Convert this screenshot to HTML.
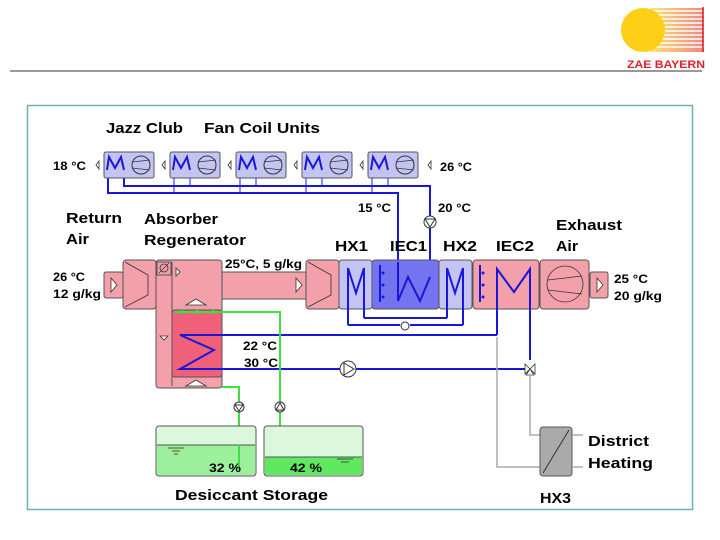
<!DOCTYPE html>
<html><head><meta charset="utf-8"><style>
html,body{margin:0;padding:0;background:#fff}
svg{display:block}
text{font-family:"Liberation Sans",Arial,sans-serif;font-weight:bold;fill:#000}
</style></head><body>
<svg width="720" height="540" viewBox="0 0 720 540" xmlns="http://www.w3.org/2000/svg">
<defs>
<linearGradient id="g1" x1="0" x2="1"><stop offset="0" stop-color="#ffd000"/><stop offset="1" stop-color="#e02020"/></linearGradient>
</defs>
<rect x="650" y="8" width="54" height="44" fill="url(#g1)" opacity="0.55"/>
<g stroke="#fff" stroke-width="1.5"><line x1="650" y1="11" x2="704" y2="11"/><line x1="650" y1="15" x2="704" y2="15"/><line x1="650" y1="19" x2="704" y2="19"/><line x1="650" y1="23" x2="704" y2="23"/><line x1="650" y1="27" x2="704" y2="27"/><line x1="650" y1="31" x2="704" y2="31"/><line x1="650" y1="35" x2="704" y2="35"/><line x1="650" y1="39" x2="704" y2="39"/><line x1="650" y1="43" x2="704" y2="43"/><line x1="650" y1="47" x2="704" y2="47"/></g>
<line x1="703" y1="7" x2="703" y2="52" stroke="#e02020" stroke-width="1.5"/>
<circle cx="643" cy="30" r="22" fill="#fdd017"/>
<text x="627" y="68" font-size="11" textLength="78" lengthAdjust="spacingAndGlyphs" style="fill:#e0202a">ZAE BAYERN</text>
<line x1="10" y1="71" x2="702" y2="71" stroke="#999" stroke-width="2"/>
<rect x="27.5" y="105.5" width="665" height="404" fill="none" stroke="#6fb0b0" stroke-width="1.5"/>

<g fill="none" stroke="#1818d8" stroke-width="2">
<polyline points="108,170 108,193 398,193 398,262"/>
<polyline points="124,170 124,186 430,186 430,216"/>
<line x1="430" y1="227" x2="430" y2="295"/>
</g>
<g stroke="#1818d8" stroke-width="1">
<line x1="174" y1="170" x2="174" y2="193"/><line x1="190" y1="170" x2="190" y2="186"/>
<line x1="240" y1="170" x2="240" y2="193"/><line x1="256" y1="170" x2="256" y2="186"/>
<line x1="306" y1="170" x2="306" y2="193"/><line x1="322" y1="170" x2="322" y2="186"/>
<line x1="372" y1="170" x2="372" y2="193"/><line x1="388" y1="170" x2="388" y2="186"/>
</g>
<circle cx="430" cy="222" r="6" fill="#fff" stroke="#333"/>
<path d="M425,219 L435,219 L430,227 Z" fill="none" stroke="#333"/>

<g id="fcu">
<rect x="104" y="152" width="50" height="26" rx="2" fill="#c4c4f4" stroke="#555"/>
<polyline points="107,170 109,157 115,168 121,157 124,170" fill="none" stroke="#1818d8" stroke-width="2"/>
<circle cx="141" cy="165" r="9" fill="none" stroke="#333"/>
<path d="M132,162 L150,160 M132,168 L150,170" stroke="#333" fill="none" stroke-width="0.8"/>
<path d="M99,161 L96,165 L99,169 Z" fill="none" stroke="#333" stroke-width="0.8"/>
</g>
<use href="#fcu" x="66"/><use href="#fcu" x="132"/><use href="#fcu" x="198"/><use href="#fcu" x="264"/>
<path d="M431,161 L428,165 L431,169 Z" fill="none" stroke="#333" stroke-width="0.8"/>

<g stroke="#555" stroke-width="1" fill="#f4a0aa">
<rect x="104" y="272" width="19" height="26" rx="2"/>
<rect x="123" y="260" width="33" height="49" rx="3"/>
<rect x="156" y="260" width="66" height="128" rx="3"/>
<rect x="222" y="272" width="84" height="27"/>
<rect x="306" y="260" width="33" height="49" rx="3"/>
<rect x="339" y="260" width="33" height="49" rx="3" fill="#c4c4f4"/>
<rect x="372" y="260" width="67" height="49" rx="3" fill="#7474f0"/>
<rect x="439" y="260" width="33" height="49" rx="3" fill="#c4c4f4"/>
<rect x="473" y="260" width="66" height="49" rx="3"/>
<rect x="540" y="260" width="49" height="49" rx="3"/>
<rect x="590" y="272" width="18" height="26" rx="2"/>
<rect x="172" y="310" width="50" height="67" rx="3" fill="#f06078"/>
</g>
<line x1="172" y1="262" x2="172" y2="386" stroke="#555"/>
<g fill="#fff" stroke="#333" stroke-width="0.8">
<path d="M111,278 L117,285 L111,292 Z"/><path d="M296,278 L302,285 L296,292 Z"/><path d="M597,278 L603,285 L597,292 Z"/>
<path d="M176,268 L180,272 L176,276 Z"/>
<path d="M186,305 L196,299 L206,305 Z"/><path d="M186,386 L196,380 L206,386 Z"/>
<path d="M160,336 L164,340 L168,336 Z"/>
</g>
<rect x="157" y="262" width="14" height="13" fill="none" stroke="#555"/>
<circle cx="164" cy="268" r="4" fill="none" stroke="#333" stroke-width="0.8"/><line x1="159" y1="273" x2="169" y2="263" stroke="#333" stroke-width="0.8"/>
<g fill="none" stroke="#333" stroke-width="0.8">
<path d="M125,262 L148,275 L148,295 L125,307"/>
<path d="M308,262 L331,275 L331,295 L308,307"/>
<circle cx="565" cy="284" r="18"/><path d="M548,280 L582,276 M548,290 L582,294"/>
</g>
<g fill="none" stroke="#1818d8" stroke-width="2">
<polyline points="348,325 348,268 356,293 364,268 364,318"/>
<polyline points="447,318 447,268 455,293 463,268 463,325"/>
<polyline points="398,262 398,301 408,277 420,301 430,277"/>
<polyline points="497,335 497,269 514,292 530,269 530,360"/>
<polyline points="348,325 400,325"/><polyline points="410,325 463,325"/>
<polyline points="364,318 447,318"/>
<polyline points="497,335 180,335 214,350 180,369 341,369"/>
<polyline points="355,369 525,369"/>
<line x1="380" y1="265" x2="380" y2="302"/><line x1="480" y1="265" x2="480" y2="302"/>
</g>
<g fill="#1818d8"><circle cx="383" cy="273" r="1.5"/><circle cx="383" cy="285" r="1.5"/><circle cx="383" cy="297" r="1.5"/><circle cx="483" cy="273" r="1.5"/><circle cx="483" cy="285" r="1.5"/><circle cx="483" cy="297" r="1.5"/></g>
<circle cx="405" cy="326" r="4" fill="#fff" stroke="#333"/>
<circle cx="348" cy="369" r="8" fill="#fff" stroke="#333"/><path d="M344,363 L354,369 L344,375 Z" fill="none" stroke="#333"/>
<path d="M525,364 L530,369 L525,374 Z M535,364 L530,369 L535,374 Z M526,375 L530,369 L534,375 Z" fill="#fff" stroke="#333" stroke-width="0.8"/>
<g fill="none" stroke="#aaa" stroke-width="1.5">
<polyline points="497,337 497,467 540,467"/>
<polyline points="530,376 530,435 540,435"/>
<line x1="573" y1="435" x2="583" y2="435"/><line x1="573" y1="467" x2="583" y2="467"/>
</g>
<rect x="540" y="427" width="32" height="49" rx="3" fill="#aaa" stroke="#555"/>
<line x1="543" y1="473" x2="569" y2="430" stroke="#333"/>
<g fill="none" stroke="#40e040" stroke-width="2">
<polyline points="174,312 280,312 280,402"/>
<polyline points="280,412 280,472"/>
<polyline points="222,387 239,387 239,402"/>
<polyline points="239,412 239,470"/>
</g>
<g fill="#40e040"><circle cx="182" cy="312" r="2"/><circle cx="197" cy="312" r="2"/><circle cx="213" cy="312" r="2"/></g>
<circle cx="239" cy="407" r="5" fill="#fff" stroke="#333"/><path d="M235,405 L243,405 L239,411 Z" fill="none" stroke="#333"/>
<circle cx="280" cy="407" r="5" fill="#fff" stroke="#333"/><path d="M276,410 L284,410 L280,403 Z" fill="none" stroke="#333"/>
<rect x="156" y="426" width="100" height="50" rx="3" fill="#dcf8dc" stroke="#555"/>
<rect x="157" y="445" width="98" height="30" fill="#9cf09c"/>
<line x1="157" y1="445" x2="255" y2="445" stroke="#555"/>
<rect x="264" y="426" width="99" height="50" rx="3" fill="#dcf8dc" stroke="#555"/>
<rect x="265" y="457" width="97" height="18" fill="#60e860"/>
<line x1="265" y1="457" x2="362" y2="457" stroke="#555"/>
<line x1="239" y1="445" x2="239" y2="470" stroke="#40e040" stroke-width="2"/>
<g stroke="#333" stroke-width="0.8"><line x1="168" y1="448" x2="184" y2="448"/><line x1="172" y1="451" x2="180" y2="451"/><line x1="174" y1="454" x2="178" y2="454"/>
<line x1="337" y1="459" x2="353" y2="459"/><line x1="341" y1="462" x2="349" y2="462"/></g>

<g font-size="15">
<text x="106" y="133" textLength="77" lengthAdjust="spacingAndGlyphs">Jazz Club</text>
<text x="204" y="133" textLength="116" lengthAdjust="spacingAndGlyphs">Fan Coil Units</text>
<text x="66" y="223" textLength="56" lengthAdjust="spacingAndGlyphs">Return</text>
<text x="66" y="244" textLength="23" lengthAdjust="spacingAndGlyphs">Air</text>
<text x="144" y="224" textLength="74" lengthAdjust="spacingAndGlyphs">Absorber</text>
<text x="144" y="245" textLength="102" lengthAdjust="spacingAndGlyphs">Regenerator</text>
<text x="335" y="251" textLength="33" lengthAdjust="spacingAndGlyphs">HX1</text>
<text x="390" y="251" textLength="37" lengthAdjust="spacingAndGlyphs">IEC1</text>
<text x="443" y="251" textLength="34" lengthAdjust="spacingAndGlyphs">HX2</text>
<text x="496" y="251" textLength="38" lengthAdjust="spacingAndGlyphs">IEC2</text>
<text x="556" y="230" textLength="66" lengthAdjust="spacingAndGlyphs">Exhaust</text>
<text x="556" y="251" textLength="22" lengthAdjust="spacingAndGlyphs">Air</text>
<text x="588" y="446" textLength="61" lengthAdjust="spacingAndGlyphs">District</text>
<text x="588" y="468" textLength="65" lengthAdjust="spacingAndGlyphs">Heating</text>
<text x="175" y="500" textLength="153" lengthAdjust="spacingAndGlyphs">Desiccant Storage</text>
<text x="540" y="503" textLength="31" lengthAdjust="spacingAndGlyphs">HX3</text>
</g>
<g font-size="12">
<text x="53" y="170" textLength="33" lengthAdjust="spacingAndGlyphs">18 °C</text>
<text x="440" y="171" textLength="32" lengthAdjust="spacingAndGlyphs">26 °C</text>
<text x="358" y="212" textLength="33" lengthAdjust="spacingAndGlyphs">15 °C</text>
<text x="438" y="212" textLength="33" lengthAdjust="spacingAndGlyphs">20 °C</text>
<text x="53" y="281" textLength="32" lengthAdjust="spacingAndGlyphs">26 °C</text>
<text x="53" y="298" textLength="48" lengthAdjust="spacingAndGlyphs">12 g/kg</text>
<text x="225" y="268" textLength="77" lengthAdjust="spacingAndGlyphs">25°C, 5 g/kg</text>
<text x="614" y="283" textLength="34" lengthAdjust="spacingAndGlyphs">25 °C</text>
<text x="614" y="300" textLength="48" lengthAdjust="spacingAndGlyphs">20 g/kg</text>
<text x="243" y="350" textLength="34" lengthAdjust="spacingAndGlyphs">22 °C</text>
<text x="244" y="367" textLength="34" lengthAdjust="spacingAndGlyphs">30 °C</text>
<text x="209" y="472" textLength="32" lengthAdjust="spacingAndGlyphs">32 %</text>
<text x="290" y="472" textLength="32" lengthAdjust="spacingAndGlyphs">42 %</text>
</g>
</svg>
</body></html>
